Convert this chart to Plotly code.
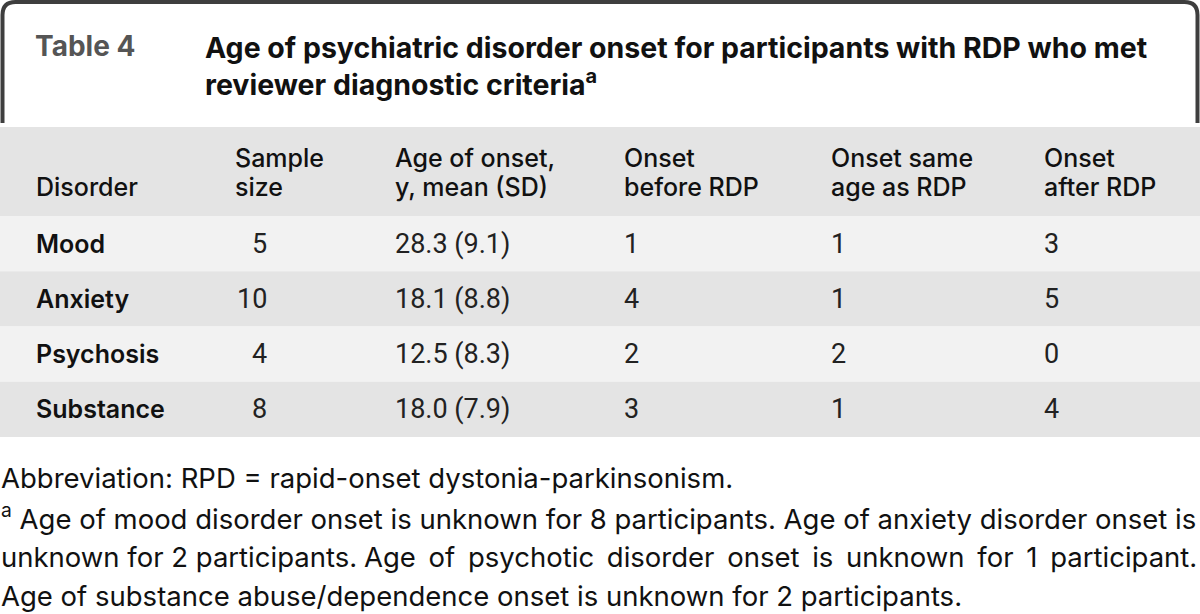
import plotly.graph_objects as go

# ---- data ----
table_label = "Table 4"
title_lines = ["Age of psychiatric disorder onset for participants with RDP who met",
               "reviewer diagnostic criteria<sup>a</sup>"]
header_line1 = ["", "Sample", "Age of onset,", "Onset", "Onset same", "Onset"]
header_line2 = ["Disorder", "size", "y, mean (SD)", "before RDP", "age as RDP", "after RDP"]
disorders = ["Mood", "Anxiety", "Psychosis", "Substance"]
sample_sizes = [5, 10, 4, 8]
age_onset = ["28.3 (9.1)", "18.1 (8.8)", "12.5 (8.3)", "18.0 (7.9)"]
onset_before = [1, 4, 2, 3]
onset_same = [1, 1, 2, 1]
onset_after = [3, 5, 0, 4]
# footnote lines; justified lines are given as chunks
footnotes = [
    ["Abbreviation: RPD = rapid-onset dystonia-parkinsonism."],
    ["<sup>a</sup> Age of mood disorder onset is unknown for 8 participants. Age of anxiety disorder onset is"],
    ["unknown for 2 participants.", "Age of psychotic disorder onset is", "unknown for 1 participant."],
    ["Age of substance abuse/dependence onset is unknown for 2 participants."],
]

# ---- layout constants ----
W, H = 1200, 614
FONT = "Inter"
NUMFONT = "Roboto"
col_x = [34, 233, 393, 622, 829, 1042]
band_top, header_bottom, row_h = 127, 216, 55.25
row_colors = ["#f2f2f2", "#e4e4e4"]

fig = go.Figure()
shapes = []
ann = []

# title box border
shapes.append(dict(type="path",
                   path="M 2.5,123 L 2.5,15 Q 2.5,2 15.5,2 L 1184.5,2 Q 1197.5,2 1197.5,15 L 1197.5,123",
                   line=dict(color="#3e3e3e", width=4), xref="x", yref="y"))

ann.append(dict(x=33, y=46, text=table_label, xanchor="left", yanchor="middle",
                font=dict(family=FONT, size=28, color="#555555", weight=700)))
for i, t in enumerate(title_lines):
    ann.append(dict(x=203, y=47 + i * 36, text=t, xanchor="left", yanchor="middle",
                    font=dict(family=FONT, size=28.5, color="#111111", weight=700)))

# header band
shapes.append(dict(type="rect", x0=0, x1=W, y0=band_top, y1=header_bottom,
                   fillcolor="#e4e4e4", line=dict(width=0), xref="x", yref="y", layer="below"))
for j in range(len(header_line1)):
    if header_line1[j]:
        ann.append(dict(x=col_x[j], y=158, text=header_line1[j], xanchor="left", yanchor="middle",
                        font=dict(family=FONT, size=25, color="#111111", weight=500)))
    ann.append(dict(x=col_x[j], y=187, text=header_line2[j], xanchor="left", yanchor="middle",
                    font=dict(family=FONT, size=25, color="#111111", weight=500)))

# rows
for i, d in enumerate(disorders):
    y0 = header_bottom + i * row_h
    y1 = y0 + row_h
    yc = (y0 + y1) / 2
    shapes.append(dict(type="rect", x0=0, x1=W, y0=y0, y1=y1, fillcolor=row_colors[i % 2],
                       line=dict(width=0), xref="x", yref="y", layer="below"))
    ann.append(dict(x=col_x[0], y=yc, text=d, xanchor="left", yanchor="middle",
                    font=dict(family=FONT, size=25, color="#111111", weight=600)))
    ann.append(dict(x=269, y=yc, text=str(sample_sizes[i]), xanchor="right", yanchor="middle",
                    font=dict(family=NUMFONT, size=27, color="#222222")))
    for j, v in zip([2, 3, 4, 5], [age_onset[i], onset_before[i], onset_same[i], onset_after[i]]):
        ann.append(dict(x=col_x[j], y=yc, text=str(v), xanchor="left", yanchor="middle",
                        font=dict(family=NUMFONT, size=27, color="#222222")))

# footnotes
fn_font = dict(family=FONT, size=27.5, color="#111111")
for k, chunks in enumerate(footnotes):
    yk = 478 + k * 39.3
    if len(chunks) == 1:
        ann.append(dict(x=0, y=yk, text=chunks[0], xanchor="left", yanchor="middle",
                        xshift=-1, font=fn_font))
    else:
        # justified line: widen word gaps slightly with thin spaces
        wide = [" \u2009".join(c.split(" ")) for c in chunks]
        ann.append(dict(x=0, y=yk, text=chunks[0], xanchor="left", yanchor="middle",
                        xshift=-1, font=fn_font))
        ann.append(dict(x=362, y=yk, text=wide[1], xanchor="left", yanchor="middle",
                        font=fn_font))
        ann.append(dict(x=W, y=yk, text=wide[2], xanchor="right", yanchor="middle",
                        xshift=-1, font=fn_font))

for a in ann:
    a.update(xref="x", yref="y", showarrow=False)

fig.update_layout(
    width=W, height=H, margin=dict(l=0, r=0, t=0, b=0),
    paper_bgcolor="white", plot_bgcolor="white",
    xaxis=dict(range=[0, W], visible=False, fixedrange=True),
    yaxis=dict(range=[H, 0], visible=False, fixedrange=True),
    shapes=shapes, annotations=ann, showlegend=False,
)
fig.write_html("out.html", config={"displayModeBar": False},
               post_script="document.body.style.margin='0';document.body.style.overflow='hidden';")
